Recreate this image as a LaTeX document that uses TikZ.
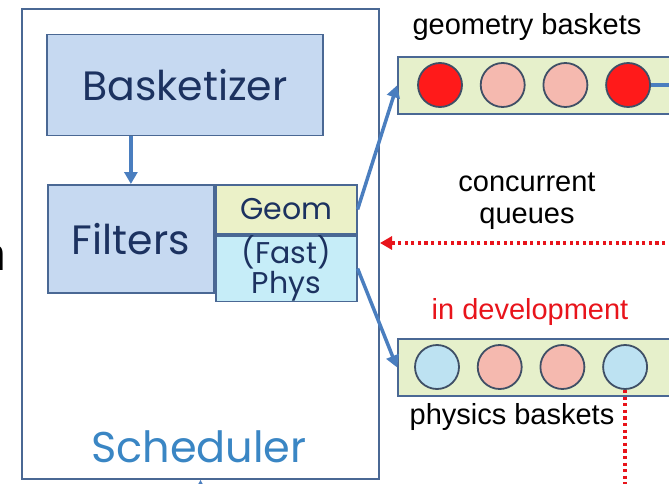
\documentclass[tikz,border=0pt]{standalone}
\usepackage{fontspec}
\setmainfont{Liberation Sans}
\newfontfamily\gothicfont{Poppins}
\usepackage{tikz}
\usetikzlibrary{arrows.meta, positioning}

\definecolor{boxline}{HTML}{4A6894}
\definecolor{boxfill}{HTML}{C6D9F1}
\definecolor{navytext}{HTML}{1C3260}
\definecolor{geomfill}{HTML}{EBF1C8}
\definecolor{physfill}{HTML}{C6EDF8}
\definecolor{schedtext}{HTML}{3A86C4}
\definecolor{flowblue}{HTML}{4A7EBF}
\definecolor{basketfill}{HTML}{E6F0CB}
\definecolor{redball}{HTML}{FF1A1A}
\definecolor{pinkball}{HTML}{F5B9AF}
\definecolor{blueball}{HTML}{BDE2F2}
\definecolor{ballrim}{HTML}{3F4F66}
\definecolor{queuered}{HTML}{E8141B}

\begin{document}
\begin{tikzpicture}[
            x = 1pt, y = -1pt, % pixel units, y going down
            > = {Triangle[length = 12pt, width = 13pt]}, % arrow head style
            semithick % line style
        ]

        \tikzstyle{box}=[
            draw = boxline,
            line width = 1.8pt,
            fill = boxfill,
            inner sep = 0pt,
            text = navytext,
            font = \gothicfont\fontsize{41}{44}\selectfont
        ]
        \tikzstyle{small box}=[
            box,
            font = \gothicfont\fontsize{30}{33}\selectfont,
            align = center
        ]
        \tikzstyle{basket}=[
            draw = boxline,
            line width = 1.8pt,
            fill = basketfill,
            minimum width = 290pt,
            minimum height = 57pt,
            anchor = north west
        ]
        \tikzstyle{ball}=[
            circle,
            draw = ballrim,
            line width = 1.8pt,
            minimum size = 44pt,
            inner sep = 0pt
        ]
        \tikzstyle{label}=[
            font = \fontsize{29}{32}\selectfont,
            align = center
        ]
        \tikzstyle{flow}=[
            draw = flowblue,
            line width = 3.5pt
        ]
        \tikzstyle{queue}=[
            draw = queuered,
            line width = 3.3pt,
            dash pattern = on 3.3pt off 3.3pt
        ]

        \useasboundingbox (0,0) rectangle (669,484);

        % cut off text at the left border
        \node[anchor = base east, inner sep = 0pt, font = \fontsize{46}{46}\selectfont] (cut) at (6,270) {n};

        % scheduler
        \node[draw = boxline, line width = 2pt, minimum width = 357pt, minimum height = 470pt,
              anchor = north west] (sched) at (21,8) {};
        \node[text = schedtext, font = \gothicfont\fontsize{43}{46}\selectfont] (schedname) at (199,447) {Scheduler};

        \node[box, minimum width = 276pt, minimum height = 101pt] (bask) at (185,85) {Basketizer};
        \node[box, minimum width = 166pt, minimum height = 108pt, anchor = north west] (filt) at (47,184) {Filters};
        \node[small box, fill = geomfill, minimum width = 141pt, minimum height = 49pt,
              anchor = north west] (geom) at (filt.north east) {Geom};
        \node[small box, fill = physfill, minimum width = 141pt, minimum height = 59pt,
              below = 0pt of geom] (phys) {(Fast)\\[-3pt]Phys};

        % geometry baskets
        \node[label] (gname) at (527,27) {geometry baskets};
        \node[basket] (gbox) at (397,56) {};
        \foreach \i/\col in {1/redball, 2/pinkball, 3/pinkball, 4/redball}
            \node[ball, fill = \col] (g\i) at (377.3+62.7*\i,85) {};
        \coordinate (gend) at (690,85);

        \node[label] (qname) at (527,201) {concurrent\\queues};

        % physics baskets
        \node[label, text = queuered] (dev) at (530,312) {in development};
        \node[basket] (pbox) at (397,338) {};
        \foreach \i/\col in {1/blueball, 2/pinkball, 3/pinkball, 4/blueball}
            \node[ball, fill = \col] (p\i) at (374.3+62.7*\i,367) {};
        \node[label] (pname) at (512,417) {physics baskets};
        \coordinate (pend) at (p4 |- 0,495);

        % flows
        \draw[flow, ->] (bask.south -| filt.north) -- (filt.north);
        \draw[flow, ->] (geom.east) -- (gbox.west);
        \draw[flow, ->] (phys.east) -- (pbox.west);
        \draw[flow] (g4.east) -- (gend);
        \coordinate (sin) at (sched.south |- 0,500);
        \draw[flow, line width = 1.5pt, ->] (sin) -- (sched.south);

        % queue back to the scheduler
        \coordinate (qin) at (685,243);
        \draw[queue, ->] (qin) -- (qin -| sched.east);
        \draw[queue] (p4.south) -- (pend);

    \end{tikzpicture}
\end{document}
